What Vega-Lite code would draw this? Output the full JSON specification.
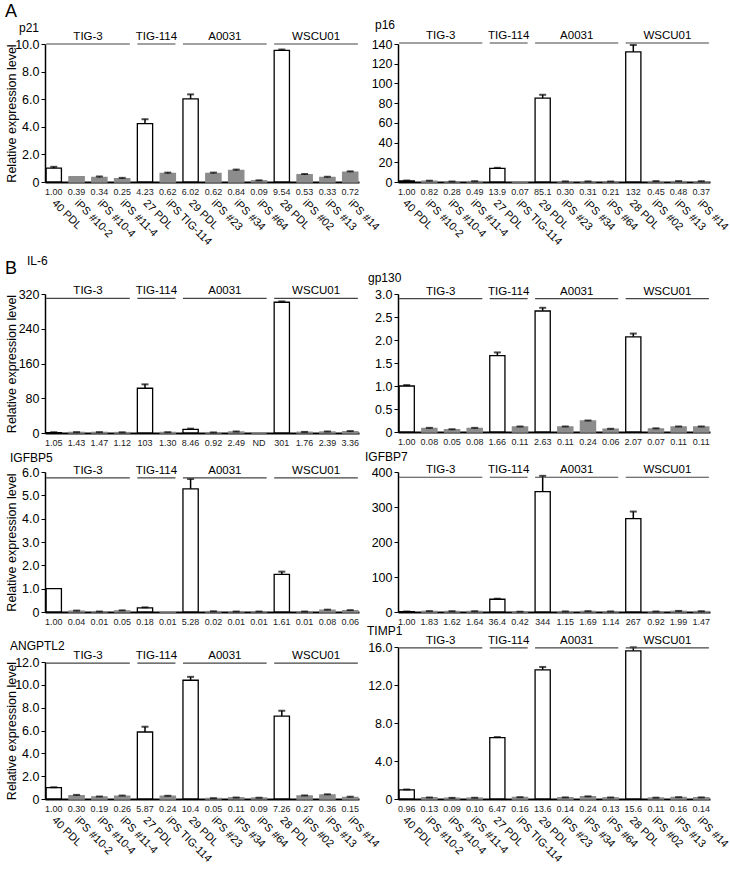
{
"$schema":"https://vega.github.io/schema/vega-lite/v6.json",
"padding":{"left":4,"top":3,"right":5,"bottom":3},
"title":{"text":"A","anchor":"start","fontSize":18,"fontWeight":"normal","offset":-2},
"datasets":{
"groups":[
{"group":"TIG-3","first":"40 PDL","last":"iPS #11-4","mid":"iPS #10-2"},
{"group":"TIG-114","first":"27 PDL","last":"iPS TIG-114","mid":"27 PDL"},
{"group":"A0031","first":"29 PDL","last":"iPS #64","mid":"iPS #23"},
{"group":"WSCU01","first":"28 PDL","last":"iPS #14","mid":"iPS #02"}
],
"expr":[
{"gene":"p21","sample":"40 PDL","kind":"PDL","value":1.00,"hi":1.10,"lab":"1.00"},
{"gene":"p21","sample":"iPS #10-2","kind":"iPS","value":0.39,"hi":0.39,"lab":"0.39"},
{"gene":"p21","sample":"iPS #10-4","kind":"iPS","value":0.34,"hi":0.40,"lab":"0.34"},
{"gene":"p21","sample":"iPS #11-4","kind":"iPS","value":0.25,"hi":0.30,"lab":"0.25"},
{"gene":"p21","sample":"27 PDL","kind":"PDL","value":4.23,"hi":4.55,"lab":"4.23"},
{"gene":"p21","sample":"iPS TIG-114","kind":"iPS","value":0.62,"hi":0.68,"lab":"0.62"},
{"gene":"p21","sample":"29 PDL","kind":"PDL","value":6.02,"hi":6.35,"lab":"6.02"},
{"gene":"p21","sample":"iPS #23","kind":"iPS","value":0.62,"hi":0.68,"lab":"0.62"},
{"gene":"p21","sample":"iPS #34","kind":"iPS","value":0.84,"hi":0.90,"lab":"0.84"},
{"gene":"p21","sample":"iPS #64","kind":"iPS","value":0.09,"hi":0.12,"lab":"0.09"},
{"gene":"p21","sample":"28 PDL","kind":"PDL","value":9.54,"hi":9.60,"lab":"9.54"},
{"gene":"p21","sample":"iPS #02","kind":"iPS","value":0.53,"hi":0.58,"lab":"0.53"},
{"gene":"p21","sample":"iPS #13","kind":"iPS","value":0.33,"hi":0.38,"lab":"0.33"},
{"gene":"p21","sample":"iPS #14","kind":"iPS","value":0.72,"hi":0.77,"lab":"0.72"},
{"gene":"p16","sample":"40 PDL","kind":"PDL","value":1.00,"hi":1.5,"lab":"1.00"},
{"gene":"p16","sample":"iPS #10-2","kind":"iPS","value":0.82,"hi":1.3,"lab":"0.82"},
{"gene":"p16","sample":"iPS #10-4","kind":"iPS","value":0.28,"hi":0.5,"lab":"0.28"},
{"gene":"p16","sample":"iPS #11-4","kind":"iPS","value":0.49,"hi":0.8,"lab":"0.49"},
{"gene":"p16","sample":"27 PDL","kind":"PDL","value":13.9,"hi":14.4,"lab":"13.9"},
{"gene":"p16","sample":"iPS TIG-114","kind":"iPS","value":0.07,"hi":0.07,"lab":"0.07"},
{"gene":"p16","sample":"29 PDL","kind":"PDL","value":85.1,"hi":88.5,"lab":"85.1"},
{"gene":"p16","sample":"iPS #23","kind":"iPS","value":0.30,"hi":0.6,"lab":"0.30"},
{"gene":"p16","sample":"iPS #34","kind":"iPS","value":0.31,"hi":0.6,"lab":"0.31"},
{"gene":"p16","sample":"iPS #64","kind":"iPS","value":0.21,"hi":0.5,"lab":"0.21"},
{"gene":"p16","sample":"28 PDL","kind":"PDL","value":132,"hi":139,"lab":"132"},
{"gene":"p16","sample":"iPS #02","kind":"iPS","value":0.45,"hi":0.9,"lab":"0.45"},
{"gene":"p16","sample":"iPS #13","kind":"iPS","value":0.48,"hi":0.9,"lab":"0.48"},
{"gene":"p16","sample":"iPS #14","kind":"iPS","value":0.37,"hi":0.8,"lab":"0.37"},
{"gene":"IL-6","sample":"40 PDL","kind":"PDL","value":1.05,"hi":1.8,"lab":"1.05"},
{"gene":"IL-6","sample":"iPS #10-2","kind":"iPS","value":1.43,"hi":2.0,"lab":"1.43"},
{"gene":"IL-6","sample":"iPS #10-4","kind":"iPS","value":1.47,"hi":2.0,"lab":"1.47"},
{"gene":"IL-6","sample":"iPS #11-4","kind":"iPS","value":1.12,"hi":1.6,"lab":"1.12"},
{"gene":"IL-6","sample":"27 PDL","kind":"PDL","value":103,"hi":112,"lab":"103"},
{"gene":"IL-6","sample":"iPS TIG-114","kind":"iPS","value":1.30,"hi":1.8,"lab":"1.30"},
{"gene":"IL-6","sample":"29 PDL","kind":"PDL","value":8.46,"hi":10,"lab":"8.46"},
{"gene":"IL-6","sample":"iPS #23","kind":"iPS","value":0.92,"hi":1.3,"lab":"0.92"},
{"gene":"IL-6","sample":"iPS #34","kind":"iPS","value":2.49,"hi":3.5,"lab":"2.49"},
{"gene":"IL-6","sample":"iPS #64","kind":"iPS","value":0,"hi":0,"lab":"ND"},
{"gene":"IL-6","sample":"28 PDL","kind":"PDL","value":301,"hi":303,"lab":"301"},
{"gene":"IL-6","sample":"iPS #02","kind":"iPS","value":1.76,"hi":2.5,"lab":"1.76"},
{"gene":"IL-6","sample":"iPS #13","kind":"iPS","value":2.39,"hi":3.5,"lab":"2.39"},
{"gene":"IL-6","sample":"iPS #14","kind":"iPS","value":3.36,"hi":4.5,"lab":"3.36"},
{"gene":"gp130","sample":"40 PDL","kind":"PDL","value":1.00,"hi":1.02,"lab":"1.00"},
{"gene":"gp130","sample":"iPS #10-2","kind":"iPS","value":0.08,"hi":0.09,"lab":"0.08"},
{"gene":"gp130","sample":"iPS #10-4","kind":"iPS","value":0.05,"hi":0.06,"lab":"0.05"},
{"gene":"gp130","sample":"iPS #11-4","kind":"iPS","value":0.08,"hi":0.09,"lab":"0.08"},
{"gene":"gp130","sample":"27 PDL","kind":"PDL","value":1.66,"hi":1.73,"lab":"1.66"},
{"gene":"gp130","sample":"iPS TIG-114","kind":"iPS","value":0.11,"hi":0.12,"lab":"0.11"},
{"gene":"gp130","sample":"29 PDL","kind":"PDL","value":2.63,"hi":2.70,"lab":"2.63"},
{"gene":"gp130","sample":"iPS #23","kind":"iPS","value":0.11,"hi":0.12,"lab":"0.11"},
{"gene":"gp130","sample":"iPS #34","kind":"iPS","value":0.24,"hi":0.25,"lab":"0.24"},
{"gene":"gp130","sample":"iPS #64","kind":"iPS","value":0.06,"hi":0.07,"lab":"0.06"},
{"gene":"gp130","sample":"28 PDL","kind":"PDL","value":2.07,"hi":2.14,"lab":"2.07"},
{"gene":"gp130","sample":"iPS #02","kind":"iPS","value":0.07,"hi":0.08,"lab":"0.07"},
{"gene":"gp130","sample":"iPS #13","kind":"iPS","value":0.11,"hi":0.12,"lab":"0.11"},
{"gene":"gp130","sample":"iPS #14","kind":"iPS","value":0.11,"hi":0.12,"lab":"0.11"},
{"gene":"IGFBP5","sample":"40 PDL","kind":"PDL","value":1.00,"hi":1.00,"lab":"1.00"},
{"gene":"IGFBP5","sample":"iPS #10-2","kind":"iPS","value":0.04,"hi":0.06,"lab":"0.04"},
{"gene":"IGFBP5","sample":"iPS #10-4","kind":"iPS","value":0.01,"hi":0.02,"lab":"0.01"},
{"gene":"IGFBP5","sample":"iPS #11-4","kind":"iPS","value":0.05,"hi":0.07,"lab":"0.05"},
{"gene":"IGFBP5","sample":"27 PDL","kind":"PDL","value":0.18,"hi":0.20,"lab":"0.18"},
{"gene":"IGFBP5","sample":"iPS TIG-114","kind":"iPS","value":0.01,"hi":0.01,"lab":"0.01"},
{"gene":"IGFBP5","sample":"29 PDL","kind":"PDL","value":5.28,"hi":5.70,"lab":"5.28"},
{"gene":"IGFBP5","sample":"iPS #23","kind":"iPS","value":0.02,"hi":0.03,"lab":"0.02"},
{"gene":"IGFBP5","sample":"iPS #34","kind":"iPS","value":0.01,"hi":0.02,"lab":"0.01"},
{"gene":"IGFBP5","sample":"iPS #64","kind":"iPS","value":0.01,"hi":0.02,"lab":"0.01"},
{"gene":"IGFBP5","sample":"28 PDL","kind":"PDL","value":1.61,"hi":1.73,"lab":"1.61"},
{"gene":"IGFBP5","sample":"iPS #02","kind":"iPS","value":0.01,"hi":0.02,"lab":"0.01"},
{"gene":"IGFBP5","sample":"iPS #13","kind":"iPS","value":0.08,"hi":0.10,"lab":"0.08"},
{"gene":"IGFBP5","sample":"iPS #14","kind":"iPS","value":0.06,"hi":0.08,"lab":"0.06"},
{"gene":"IGFBP7","sample":"40 PDL","kind":"PDL","value":1.00,"hi":1.5,"lab":"1.00"},
{"gene":"IGFBP7","sample":"iPS #10-2","kind":"iPS","value":1.83,"hi":2.5,"lab":"1.83"},
{"gene":"IGFBP7","sample":"iPS #10-4","kind":"iPS","value":1.62,"hi":2.2,"lab":"1.62"},
{"gene":"IGFBP7","sample":"iPS #11-4","kind":"iPS","value":1.64,"hi":2.2,"lab":"1.64"},
{"gene":"IGFBP7","sample":"27 PDL","kind":"PDL","value":36.4,"hi":38,"lab":"36.4"},
{"gene":"IGFBP7","sample":"iPS TIG-114","kind":"iPS","value":0.42,"hi":0.8,"lab":"0.42"},
{"gene":"IGFBP7","sample":"29 PDL","kind":"PDL","value":344,"hi":389,"lab":"344"},
{"gene":"IGFBP7","sample":"iPS #23","kind":"iPS","value":1.15,"hi":1.6,"lab":"1.15"},
{"gene":"IGFBP7","sample":"iPS #34","kind":"iPS","value":1.69,"hi":2.3,"lab":"1.69"},
{"gene":"IGFBP7","sample":"iPS #64","kind":"iPS","value":1.14,"hi":1.6,"lab":"1.14"},
{"gene":"IGFBP7","sample":"28 PDL","kind":"PDL","value":267,"hi":287,"lab":"267"},
{"gene":"IGFBP7","sample":"iPS #02","kind":"iPS","value":0.92,"hi":1.4,"lab":"0.92"},
{"gene":"IGFBP7","sample":"iPS #13","kind":"iPS","value":1.99,"hi":3.0,"lab":"1.99"},
{"gene":"IGFBP7","sample":"iPS #14","kind":"iPS","value":1.47,"hi":2.2,"lab":"1.47"},
{"gene":"ANGPTL2","sample":"40 PDL","kind":"PDL","value":1.00,"hi":1.03,"lab":"1.00"},
{"gene":"ANGPTL2","sample":"iPS #10-2","kind":"iPS","value":0.30,"hi":0.36,"lab":"0.30"},
{"gene":"ANGPTL2","sample":"iPS #10-4","kind":"iPS","value":0.19,"hi":0.22,"lab":"0.19"},
{"gene":"ANGPTL2","sample":"iPS #11-4","kind":"iPS","value":0.26,"hi":0.30,"lab":"0.26"},
{"gene":"ANGPTL2","sample":"27 PDL","kind":"PDL","value":5.87,"hi":6.33,"lab":"5.87"},
{"gene":"ANGPTL2","sample":"iPS TIG-114","kind":"iPS","value":0.24,"hi":0.28,"lab":"0.24"},
{"gene":"ANGPTL2","sample":"29 PDL","kind":"PDL","value":10.4,"hi":10.7,"lab":"10.4"},
{"gene":"ANGPTL2","sample":"iPS #23","kind":"iPS","value":0.05,"hi":0.07,"lab":"0.05"},
{"gene":"ANGPTL2","sample":"iPS #34","kind":"iPS","value":0.11,"hi":0.13,"lab":"0.11"},
{"gene":"ANGPTL2","sample":"iPS #64","kind":"iPS","value":0.09,"hi":0.11,"lab":"0.09"},
{"gene":"ANGPTL2","sample":"28 PDL","kind":"PDL","value":7.26,"hi":7.73,"lab":"7.26"},
{"gene":"ANGPTL2","sample":"iPS #02","kind":"iPS","value":0.27,"hi":0.31,"lab":"0.27"},
{"gene":"ANGPTL2","sample":"iPS #13","kind":"iPS","value":0.36,"hi":0.41,"lab":"0.36"},
{"gene":"ANGPTL2","sample":"iPS #14","kind":"iPS","value":0.15,"hi":0.20,"lab":"0.15"},
{"gene":"TIMP1","sample":"40 PDL","kind":"PDL","value":0.96,"hi":1.00,"lab":"0.96"},
{"gene":"TIMP1","sample":"iPS #10-2","kind":"iPS","value":0.13,"hi":0.16,"lab":"0.13"},
{"gene":"TIMP1","sample":"iPS #10-4","kind":"iPS","value":0.09,"hi":0.12,"lab":"0.09"},
{"gene":"TIMP1","sample":"iPS #11-4","kind":"iPS","value":0.10,"hi":0.13,"lab":"0.10"},
{"gene":"TIMP1","sample":"27 PDL","kind":"PDL","value":6.47,"hi":6.52,"lab":"6.47"},
{"gene":"TIMP1","sample":"iPS TIG-114","kind":"iPS","value":0.16,"hi":0.19,"lab":"0.16"},
{"gene":"TIMP1","sample":"29 PDL","kind":"PDL","value":13.6,"hi":13.9,"lab":"13.6"},
{"gene":"TIMP1","sample":"iPS #23","kind":"iPS","value":0.14,"hi":0.17,"lab":"0.14"},
{"gene":"TIMP1","sample":"iPS #34","kind":"iPS","value":0.24,"hi":0.28,"lab":"0.24"},
{"gene":"TIMP1","sample":"iPS #64","kind":"iPS","value":0.13,"hi":0.16,"lab":"0.13"},
{"gene":"TIMP1","sample":"28 PDL","kind":"PDL","value":15.6,"hi":15.97,"lab":"15.6"},
{"gene":"TIMP1","sample":"iPS #02","kind":"iPS","value":0.11,"hi":0.14,"lab":"0.11"},
{"gene":"TIMP1","sample":"iPS #13","kind":"iPS","value":0.16,"hi":0.19,"lab":"0.16"},
{"gene":"TIMP1","sample":"iPS #14","kind":"iPS","value":0.14,"hi":0.17,"lab":"0.14"}
]
},
"spacing":-16,
"hconcat":[
{"bounds":"flush","spacing":112,"vconcat":[
{"width":314,"height":138,
 "title":{"text":"p21","anchor":"start","frame":"group","dx":-26,"offset":-4,"fontSize":12},
 "layer":[
  {"data":{"name":"expr"},"transform":[{"filter":"datum.gene == 'p21'"}],"mark":{"type":"bar","strokeWidth":1.3},
   "encoding":{"x":{"field":"sample","type":"nominal","scale":{"domain":["40 PDL","iPS #10-2","iPS #10-4","iPS #11-4","27 PDL","iPS TIG-114","29 PDL","iPS #23","iPS #34","iPS #64","28 PDL","iPS #02","iPS #13","iPS #14"],"paddingInner":0.33,"paddingOuter":0.05},
     "axis":{"title":null,"ticks":false,"domainColor":"black","domainWidth":2,"labelAngle":45,"labelAlign":"left","labelBaseline":"top","labelFontSize":11,"labelColor":"black","labelPadding":15,"labelOffset":4,"labelOverlap":false}},
    "y":{"field":"value","type":"quantitative","scale":{"domain":[0,10],"nice":false},
     "axis":{"values":[0,2,4,6,8,10],"tickCount":20,"labelExpr":"datum.value == 0 ? '0' : format(datum.value, '.1f')","grid":false,"domainColor":"black","domainWidth":1.5,"tickColor":"black","tickSize":4,"labelFontSize":12.5,"labelColor":"black","labelPadding":2,"labelOverlap":false,"title":"Relative expression level","titleFontSize":12.5,"titleFontWeight":"normal","titleColor":"black","titlePadding":-3,"minExtent":30,"maxExtent":30}},
    "fill":{"field":"kind","type":"nominal","scale":{"domain":["PDL","iPS"],"range":["#ffffff","#8c8c8c"]},"legend":null},
    "stroke":{"field":"kind","type":"nominal","scale":{"domain":["PDL","iPS"],"range":["#000000","#8c8c8c"]},"legend":null}}},
  {"data":{"name":"expr"},"transform":[{"filter":"datum.gene == 'p21' && datum.hi > datum.value"}],"mark":{"type":"rule","color":"black","strokeWidth":1.5},
   "encoding":{"x":{"field":"sample","type":"nominal"},"y":{"field":"value","type":"quantitative"},"y2":{"field":"hi"}}},
  {"data":{"name":"expr"},"transform":[{"filter":"datum.gene == 'p21' && datum.hi > datum.value"}],"mark":{"type":"tick","color":"black","thickness":2,"size":7},
   "encoding":{"x":{"field":"sample","type":"nominal"},"y":{"field":"hi","type":"quantitative"}}},
  {"data":{"name":"expr"},"transform":[{"filter":"datum.gene == 'p21'"}],"mark":{"type":"text","fontSize":9,"baseline":"top","dy":6,"color":"#222222"},
   "encoding":{"x":{"field":"sample","type":"nominal"},"y":{"datum":0,"type":"quantitative"},"text":{"field":"lab","type":"nominal"}}},
  {"data":{"name":"groups"},"mark":{"type":"rule","color":"#444444","strokeWidth":1.2},
   "encoding":{"x":{"field":"first","type":"nominal","bandPosition":0},"x2":{"field":"last","bandPosition":1},"y":{"datum":10,"type":"quantitative"}}},
  {"data":{"name":"groups"},"mark":{"type":"text","fontSize":11.5,"baseline":"alphabetic","dy":-4,"color":"black"},
   "encoding":{"x":{"field":"mid","type":"nominal","bandPosition":1.25},"y":{"datum":10,"type":"quantitative"},"text":{"field":"group","type":"nominal"}}}
 ]},
{"bounds":"flush","spacing":39,
 "title":{"text":"B","anchor":"start","fontSize":18,"fontWeight":"normal","offset":-23},
 "vconcat":[
 {"width":314,"height":139,
 "title":{"text":"IL-6","anchor":"start","frame":"group","dx":-18,"offset":17,"fontSize":12},
 "layer":[
  {"data":{"name":"expr"},"transform":[{"filter":"datum.gene == 'IL-6'"}],"mark":{"type":"bar","strokeWidth":1.3},
   "encoding":{"x":{"field":"sample","type":"nominal","scale":{"domain":["40 PDL","iPS #10-2","iPS #10-4","iPS #11-4","27 PDL","iPS TIG-114","29 PDL","iPS #23","iPS #34","iPS #64","28 PDL","iPS #02","iPS #13","iPS #14"],"paddingInner":0.33,"paddingOuter":0.05},
     "axis":{"title":null,"ticks":false,"labels":false,"domainColor":"black","domainWidth":2}},
    "y":{"field":"value","type":"quantitative","scale":{"domain":[0,320],"nice":false},
     "axis":{"values":[0,80,160,240,320],"tickCount":20,"grid":false,"domainColor":"black","domainWidth":1.5,"tickColor":"black","tickSize":4,"labelFontSize":12.5,"labelColor":"black","labelPadding":2,"labelOverlap":false,"title":"Relative expression level","titleFontSize":12.5,"titleFontWeight":"normal","titleColor":"black","titlePadding":-3,"minExtent":30,"maxExtent":30}},
    "fill":{"field":"kind","type":"nominal","scale":{"domain":["PDL","iPS"],"range":["#ffffff","#8c8c8c"]},"legend":null},
    "stroke":{"field":"kind","type":"nominal","scale":{"domain":["PDL","iPS"],"range":["#000000","#8c8c8c"]},"legend":null}}},
  {"data":{"name":"expr"},"transform":[{"filter":"datum.gene == 'IL-6' && datum.hi > datum.value"}],"mark":{"type":"rule","color":"black","strokeWidth":1.5},
   "encoding":{"x":{"field":"sample","type":"nominal"},"y":{"field":"value","type":"quantitative"},"y2":{"field":"hi"}}},
  {"data":{"name":"expr"},"transform":[{"filter":"datum.gene == 'IL-6' && datum.hi > datum.value"}],"mark":{"type":"tick","color":"black","thickness":2,"size":7},
   "encoding":{"x":{"field":"sample","type":"nominal"},"y":{"field":"hi","type":"quantitative"}}},
  {"data":{"name":"expr"},"transform":[{"filter":"datum.gene == 'IL-6'"}],"mark":{"type":"text","fontSize":9,"baseline":"top","dy":6,"color":"#222222"},
   "encoding":{"x":{"field":"sample","type":"nominal"},"y":{"datum":0,"type":"quantitative"},"text":{"field":"lab","type":"nominal"}}},
  {"data":{"name":"groups"},"mark":{"type":"rule","color":"#444444","strokeWidth":1.2},
   "encoding":{"x":{"field":"first","type":"nominal","bandPosition":0},"x2":{"field":"last","bandPosition":1},"y":{"datum":310,"type":"quantitative"}}},
  {"data":{"name":"groups"},"mark":{"type":"text","fontSize":11.5,"baseline":"alphabetic","dy":-4,"color":"black"},
   "encoding":{"x":{"field":"mid","type":"nominal","bandPosition":1.25},"y":{"datum":310,"type":"quantitative"},"text":{"field":"group","type":"nominal"}}}
 ]},
 {"bounds":"flush","spacing":50,"vconcat":[
 {"width":314,"height":140,
 "title":{"text":"IGFBP5","anchor":"start","frame":"group","dx":-35,"offset":0,"fontSize":12},
 "layer":[
  {"data":{"name":"expr"},"transform":[{"filter":"datum.gene == 'IGFBP5'"}],"mark":{"type":"bar","strokeWidth":1.3},
   "encoding":{"x":{"field":"sample","type":"nominal","scale":{"domain":["40 PDL","iPS #10-2","iPS #10-4","iPS #11-4","27 PDL","iPS TIG-114","29 PDL","iPS #23","iPS #34","iPS #64","28 PDL","iPS #02","iPS #13","iPS #14"],"paddingInner":0.33,"paddingOuter":0.05},
     "axis":{"title":null,"ticks":false,"labels":false,"domainColor":"black","domainWidth":2}},
    "y":{"field":"value","type":"quantitative","scale":{"domain":[0,6],"nice":false},
     "axis":{"values":[0,1,2,3,4,5,6],"tickCount":20,"labelExpr":"datum.value == 0 ? '0' : format(datum.value, '.1f')","grid":false,"domainColor":"black","domainWidth":1.5,"tickColor":"black","tickSize":4,"labelFontSize":12.5,"labelColor":"black","labelPadding":2,"labelOverlap":false,"title":"Relative expression level","titleFontSize":12.5,"titleFontWeight":"normal","titleColor":"black","titlePadding":-3,"minExtent":30,"maxExtent":30}},
    "fill":{"field":"kind","type":"nominal","scale":{"domain":["PDL","iPS"],"range":["#ffffff","#8c8c8c"]},"legend":null},
    "stroke":{"field":"kind","type":"nominal","scale":{"domain":["PDL","iPS"],"range":["#000000","#8c8c8c"]},"legend":null}}},
  {"data":{"name":"expr"},"transform":[{"filter":"datum.gene == 'IGFBP5' && datum.hi > datum.value"}],"mark":{"type":"rule","color":"black","strokeWidth":1.5},
   "encoding":{"x":{"field":"sample","type":"nominal"},"y":{"field":"value","type":"quantitative"},"y2":{"field":"hi"}}},
  {"data":{"name":"expr"},"transform":[{"filter":"datum.gene == 'IGFBP5' && datum.hi > datum.value"}],"mark":{"type":"tick","color":"black","thickness":2,"size":7},
   "encoding":{"x":{"field":"sample","type":"nominal"},"y":{"field":"hi","type":"quantitative"}}},
  {"data":{"name":"expr"},"transform":[{"filter":"datum.gene == 'IGFBP5'"}],"mark":{"type":"text","fontSize":9,"baseline":"top","dy":6,"color":"#222222"},
   "encoding":{"x":{"field":"sample","type":"nominal"},"y":{"datum":0,"type":"quantitative"},"text":{"field":"lab","type":"nominal"}}},
  {"data":{"name":"groups"},"mark":{"type":"rule","color":"#444444","strokeWidth":1.2},
   "encoding":{"x":{"field":"first","type":"nominal","bandPosition":0},"x2":{"field":"last","bandPosition":1},"y":{"datum":5.75,"type":"quantitative"}}},
  {"data":{"name":"groups"},"mark":{"type":"text","fontSize":11.5,"baseline":"alphabetic","dy":-4,"color":"black"},
   "encoding":{"x":{"field":"mid","type":"nominal","bandPosition":1.25},"y":{"datum":5.75,"type":"quantitative"},"text":{"field":"group","type":"nominal"}}}
 ]},
 {"width":314,"height":137,
 "title":{"text":"ANGPTL2","anchor":"start","frame":"group","dx":-35,"offset":-3,"fontSize":12},
 "layer":[
  {"data":{"name":"expr"},"transform":[{"filter":"datum.gene == 'ANGPTL2'"}],"mark":{"type":"bar","strokeWidth":1.3},
   "encoding":{"x":{"field":"sample","type":"nominal","scale":{"domain":["40 PDL","iPS #10-2","iPS #10-4","iPS #11-4","27 PDL","iPS TIG-114","29 PDL","iPS #23","iPS #34","iPS #64","28 PDL","iPS #02","iPS #13","iPS #14"],"paddingInner":0.33,"paddingOuter":0.05},
     "axis":{"title":null,"ticks":false,"domainColor":"black","domainWidth":2,"labelAngle":45,"labelAlign":"left","labelBaseline":"top","labelFontSize":11,"labelColor":"black","labelPadding":15,"labelOffset":4,"labelOverlap":false}},
    "y":{"field":"value","type":"quantitative","scale":{"domain":[0,12],"nice":false},
     "axis":{"values":[0,2,4,6,8,10,12],"tickCount":20,"labelExpr":"datum.value == 0 ? '0' : format(datum.value, '.1f')","grid":false,"domainColor":"black","domainWidth":1.5,"tickColor":"black","tickSize":4,"labelFontSize":12.5,"labelColor":"black","labelPadding":2,"labelOverlap":false,"title":"Relative expression level","titleFontSize":12.5,"titleFontWeight":"normal","titleColor":"black","titlePadding":-3,"minExtent":30,"maxExtent":30}},
    "fill":{"field":"kind","type":"nominal","scale":{"domain":["PDL","iPS"],"range":["#ffffff","#8c8c8c"]},"legend":null},
    "stroke":{"field":"kind","type":"nominal","scale":{"domain":["PDL","iPS"],"range":["#000000","#8c8c8c"]},"legend":null}}},
  {"data":{"name":"expr"},"transform":[{"filter":"datum.gene == 'ANGPTL2' && datum.hi > datum.value"}],"mark":{"type":"rule","color":"black","strokeWidth":1.5},
   "encoding":{"x":{"field":"sample","type":"nominal"},"y":{"field":"value","type":"quantitative"},"y2":{"field":"hi"}}},
  {"data":{"name":"expr"},"transform":[{"filter":"datum.gene == 'ANGPTL2' && datum.hi > datum.value"}],"mark":{"type":"tick","color":"black","thickness":2,"size":7},
   "encoding":{"x":{"field":"sample","type":"nominal"},"y":{"field":"hi","type":"quantitative"}}},
  {"data":{"name":"expr"},"transform":[{"filter":"datum.gene == 'ANGPTL2'"}],"mark":{"type":"text","fontSize":9,"baseline":"top","dy":6,"color":"#222222"},
   "encoding":{"x":{"field":"sample","type":"nominal"},"y":{"datum":0,"type":"quantitative"},"text":{"field":"lab","type":"nominal"}}},
  {"data":{"name":"groups"},"mark":{"type":"rule","color":"#444444","strokeWidth":1.2},
   "encoding":{"x":{"field":"first","type":"nominal","bandPosition":0},"x2":{"field":"last","bandPosition":1},"y":{"datum":11.9,"type":"quantitative"}}},
  {"data":{"name":"groups"},"mark":{"type":"text","fontSize":11.5,"baseline":"alphabetic","dy":-4,"color":"black"},
   "encoding":{"x":{"field":"mid","type":"nominal","bandPosition":1.25},"y":{"datum":11.9,"type":"quantitative"},"text":{"field":"group","type":"nominal"}}}
 ]}
 ]}
 ]}
]},
{"bounds":"flush","spacing":112,"vconcat":[
{"width":312,"height":138,
 "title":{"text":"p16","anchor":"start","frame":"group","dx":-23,"offset":-2,"fontSize":12},
 "layer":[
  {"data":{"name":"expr"},"transform":[{"filter":"datum.gene == 'p16'"}],"mark":{"type":"bar","strokeWidth":1.3},
   "encoding":{"x":{"field":"sample","type":"nominal","scale":{"domain":["40 PDL","iPS #10-2","iPS #10-4","iPS #11-4","27 PDL","iPS TIG-114","29 PDL","iPS #23","iPS #34","iPS #64","28 PDL","iPS #02","iPS #13","iPS #14"],"paddingInner":0.33,"paddingOuter":0.05},
     "axis":{"title":null,"ticks":false,"domainColor":"black","domainWidth":2,"labelAngle":45,"labelAlign":"left","labelBaseline":"top","labelFontSize":11,"labelColor":"black","labelPadding":15,"labelOffset":2,"labelOverlap":false}},
    "y":{"field":"value","type":"quantitative","scale":{"domain":[0,140],"nice":false},
     "axis":{"values":[0,20,40,60,80,100,120,140],"tickCount":20,"grid":false,"domainColor":"black","domainWidth":1.5,"tickColor":"black","tickSize":4,"labelFontSize":12.5,"labelColor":"black","labelPadding":2,"labelOverlap":false,"title":null}},
    "fill":{"field":"kind","type":"nominal","scale":{"domain":["PDL","iPS"],"range":["#ffffff","#8c8c8c"]},"legend":null},
    "stroke":{"field":"kind","type":"nominal","scale":{"domain":["PDL","iPS"],"range":["#000000","#8c8c8c"]},"legend":null}}},
  {"data":{"name":"expr"},"transform":[{"filter":"datum.gene == 'p16' && datum.hi > datum.value"}],"mark":{"type":"rule","color":"black","strokeWidth":1.5},
   "encoding":{"x":{"field":"sample","type":"nominal"},"y":{"field":"value","type":"quantitative"},"y2":{"field":"hi"}}},
  {"data":{"name":"expr"},"transform":[{"filter":"datum.gene == 'p16' && datum.hi > datum.value"}],"mark":{"type":"tick","color":"black","thickness":2,"size":7},
   "encoding":{"x":{"field":"sample","type":"nominal"},"y":{"field":"hi","type":"quantitative"}}},
  {"data":{"name":"expr"},"transform":[{"filter":"datum.gene == 'p16'"}],"mark":{"type":"text","fontSize":9,"baseline":"top","dy":6,"color":"#222222"},
   "encoding":{"x":{"field":"sample","type":"nominal"},"y":{"datum":0,"type":"quantitative"},"text":{"field":"lab","type":"nominal"}}},
  {"data":{"name":"groups"},"mark":{"type":"rule","color":"#444444","strokeWidth":1.2},
   "encoding":{"x":{"field":"first","type":"nominal","bandPosition":0},"x2":{"field":"last","bandPosition":1},"y":{"datum":141,"type":"quantitative"}}},
  {"data":{"name":"groups"},"mark":{"type":"text","fontSize":11.5,"baseline":"alphabetic","dy":-4,"color":"black"},
   "encoding":{"x":{"field":"mid","type":"nominal","bandPosition":1.25},"y":{"datum":141,"type":"quantitative"},"text":{"field":"group","type":"nominal"}}}
 ]},
{"bounds":"flush","spacing":40,"vconcat":[
 {"width":312,"height":138,
 "title":{"text":"gp130","anchor":"start","frame":"group","dx":-30,"offset":1,"fontSize":12},
 "layer":[
  {"data":{"name":"expr"},"transform":[{"filter":"datum.gene == 'gp130'"}],"mark":{"type":"bar","strokeWidth":1.3},
   "encoding":{"x":{"field":"sample","type":"nominal","scale":{"domain":["40 PDL","iPS #10-2","iPS #10-4","iPS #11-4","27 PDL","iPS TIG-114","29 PDL","iPS #23","iPS #34","iPS #64","28 PDL","iPS #02","iPS #13","iPS #14"],"paddingInner":0.33,"paddingOuter":0.05},
     "axis":{"title":null,"ticks":false,"labels":false,"domainColor":"black","domainWidth":2}},
    "y":{"field":"value","type":"quantitative","scale":{"domain":[0,3],"nice":false},
     "axis":{"values":[0,0.5,1,1.5,2,2.5,3],"tickCount":20,"labelExpr":"datum.value == 0 ? '0' : format(datum.value, '.1f')","grid":false,"domainColor":"black","domainWidth":1.5,"tickColor":"black","tickSize":4,"labelFontSize":12.5,"labelColor":"black","labelPadding":2,"labelOverlap":false,"title":null}},
    "fill":{"field":"kind","type":"nominal","scale":{"domain":["PDL","iPS"],"range":["#ffffff","#8c8c8c"]},"legend":null},
    "stroke":{"field":"kind","type":"nominal","scale":{"domain":["PDL","iPS"],"range":["#000000","#8c8c8c"]},"legend":null}}},
  {"data":{"name":"expr"},"transform":[{"filter":"datum.gene == 'gp130' && datum.hi > datum.value"}],"mark":{"type":"rule","color":"black","strokeWidth":1.5},
   "encoding":{"x":{"field":"sample","type":"nominal"},"y":{"field":"value","type":"quantitative"},"y2":{"field":"hi"}}},
  {"data":{"name":"expr"},"transform":[{"filter":"datum.gene == 'gp130' && datum.hi > datum.value"}],"mark":{"type":"tick","color":"black","thickness":2,"size":7},
   "encoding":{"x":{"field":"sample","type":"nominal"},"y":{"field":"hi","type":"quantitative"}}},
  {"data":{"name":"expr"},"transform":[{"filter":"datum.gene == 'gp130'"}],"mark":{"type":"text","fontSize":9,"baseline":"top","dy":6,"color":"#222222"},
   "encoding":{"x":{"field":"sample","type":"nominal"},"y":{"datum":0,"type":"quantitative"},"text":{"field":"lab","type":"nominal"}}},
  {"data":{"name":"groups"},"mark":{"type":"rule","color":"#444444","strokeWidth":1.2},
   "encoding":{"x":{"field":"first","type":"nominal","bandPosition":0},"x2":{"field":"last","bandPosition":1},"y":{"datum":2.9,"type":"quantitative"}}},
  {"data":{"name":"groups"},"mark":{"type":"text","fontSize":11.5,"baseline":"alphabetic","dy":-4,"color":"black"},
   "encoding":{"x":{"field":"mid","type":"nominal","bandPosition":1.25},"y":{"datum":2.9,"type":"quantitative"},"text":{"field":"group","type":"nominal"}}}
 ]},
 {"bounds":"flush","spacing":35,"vconcat":[
 {"width":312,"height":140,
 "title":{"text":"IGFBP7","anchor":"start","frame":"group","dx":-33,"offset":0,"fontSize":12},
 "layer":[
  {"data":{"name":"expr"},"transform":[{"filter":"datum.gene == 'IGFBP7'"}],"mark":{"type":"bar","strokeWidth":1.3},
   "encoding":{"x":{"field":"sample","type":"nominal","scale":{"domain":["40 PDL","iPS #10-2","iPS #10-4","iPS #11-4","27 PDL","iPS TIG-114","29 PDL","iPS #23","iPS #34","iPS #64","28 PDL","iPS #02","iPS #13","iPS #14"],"paddingInner":0.33,"paddingOuter":0.05},
     "axis":{"title":null,"ticks":false,"labels":false,"domainColor":"black","domainWidth":2}},
    "y":{"field":"value","type":"quantitative","scale":{"domain":[0,400],"nice":false},
     "axis":{"values":[0,100,200,300,400],"tickCount":20,"grid":false,"domainColor":"black","domainWidth":1.5,"tickColor":"black","tickSize":4,"labelFontSize":12.5,"labelColor":"black","labelPadding":2,"labelOverlap":false,"title":null}},
    "fill":{"field":"kind","type":"nominal","scale":{"domain":["PDL","iPS"],"range":["#ffffff","#8c8c8c"]},"legend":null},
    "stroke":{"field":"kind","type":"nominal","scale":{"domain":["PDL","iPS"],"range":["#000000","#8c8c8c"]},"legend":null}}},
  {"data":{"name":"expr"},"transform":[{"filter":"datum.gene == 'IGFBP7' && datum.hi > datum.value"}],"mark":{"type":"rule","color":"black","strokeWidth":1.5},
   "encoding":{"x":{"field":"sample","type":"nominal"},"y":{"field":"value","type":"quantitative"},"y2":{"field":"hi"}}},
  {"data":{"name":"expr"},"transform":[{"filter":"datum.gene == 'IGFBP7' && datum.hi > datum.value"}],"mark":{"type":"tick","color":"black","thickness":2,"size":7},
   "encoding":{"x":{"field":"sample","type":"nominal"},"y":{"field":"hi","type":"quantitative"}}},
  {"data":{"name":"expr"},"transform":[{"filter":"datum.gene == 'IGFBP7'"}],"mark":{"type":"text","fontSize":9,"baseline":"top","dy":6,"color":"#222222"},
   "encoding":{"x":{"field":"sample","type":"nominal"},"y":{"datum":0,"type":"quantitative"},"text":{"field":"lab","type":"nominal"}}},
  {"data":{"name":"groups"},"mark":{"type":"rule","color":"#444444","strokeWidth":1.2},
   "encoding":{"x":{"field":"first","type":"nominal","bandPosition":0},"x2":{"field":"last","bandPosition":1},"y":{"datum":385,"type":"quantitative"}}},
  {"data":{"name":"groups"},"mark":{"type":"text","fontSize":11.5,"baseline":"alphabetic","dy":-4,"color":"black"},
   "encoding":{"x":{"field":"mid","type":"nominal","bandPosition":1.25},"y":{"datum":385,"type":"quantitative"},"text":{"field":"group","type":"nominal"}}}
 ]},
 {"width":312,"height":152,
 "title":{"text":"TIMP1","anchor":"start","frame":"group","dx":-31,"offset":-3,"fontSize":12},
 "layer":[
  {"data":{"name":"expr"},"transform":[{"filter":"datum.gene == 'TIMP1'"}],"mark":{"type":"bar","strokeWidth":1.3},
   "encoding":{"x":{"field":"sample","type":"nominal","scale":{"domain":["40 PDL","iPS #10-2","iPS #10-4","iPS #11-4","27 PDL","iPS TIG-114","29 PDL","iPS #23","iPS #34","iPS #64","28 PDL","iPS #02","iPS #13","iPS #14"],"paddingInner":0.33,"paddingOuter":0.05},
     "axis":{"title":null,"ticks":false,"domainColor":"black","domainWidth":2,"labelAngle":45,"labelAlign":"left","labelBaseline":"top","labelFontSize":11,"labelColor":"black","labelPadding":15,"labelOffset":2,"labelOverlap":false}},
    "y":{"field":"value","type":"quantitative","scale":{"domain":[0,16],"nice":false},
     "axis":{"values":[0,4,8,12,16],"tickCount":20,"labelExpr":"datum.value == 0 ? '0' : format(datum.value, '.1f')","grid":false,"domainColor":"black","domainWidth":1.5,"tickColor":"black","tickSize":4,"labelFontSize":12.5,"labelColor":"black","labelPadding":2,"labelOverlap":false,"title":null}},
    "fill":{"field":"kind","type":"nominal","scale":{"domain":["PDL","iPS"],"range":["#ffffff","#8c8c8c"]},"legend":null},
    "stroke":{"field":"kind","type":"nominal","scale":{"domain":["PDL","iPS"],"range":["#000000","#8c8c8c"]},"legend":null}}},
  {"data":{"name":"expr"},"transform":[{"filter":"datum.gene == 'TIMP1' && datum.hi > datum.value"}],"mark":{"type":"rule","color":"black","strokeWidth":1.5},
   "encoding":{"x":{"field":"sample","type":"nominal"},"y":{"field":"value","type":"quantitative"},"y2":{"field":"hi"}}},
  {"data":{"name":"expr"},"transform":[{"filter":"datum.gene == 'TIMP1' && datum.hi > datum.value"}],"mark":{"type":"tick","color":"black","thickness":2,"size":7},
   "encoding":{"x":{"field":"sample","type":"nominal"},"y":{"field":"hi","type":"quantitative"}}},
  {"data":{"name":"expr"},"transform":[{"filter":"datum.gene == 'TIMP1'"}],"mark":{"type":"text","fontSize":9,"baseline":"top","dy":6,"color":"#222222"},
   "encoding":{"x":{"field":"sample","type":"nominal"},"y":{"datum":0,"type":"quantitative"},"text":{"field":"lab","type":"nominal"}}},
  {"data":{"name":"groups"},"mark":{"type":"rule","color":"#444444","strokeWidth":1.2},
   "encoding":{"x":{"field":"first","type":"nominal","bandPosition":0},"x2":{"field":"last","bandPosition":1},"y":{"datum":15.9,"type":"quantitative"}}},
  {"data":{"name":"groups"},"mark":{"type":"text","fontSize":11.5,"baseline":"alphabetic","dy":-4,"color":"black"},
   "encoding":{"x":{"field":"mid","type":"nominal","bandPosition":1.25},"y":{"datum":15.9,"type":"quantitative"},"text":{"field":"group","type":"nominal"}}}
 ]}
 ]}
 ]}
]}
],
"config":{"font":"Liberation Sans","view":{"stroke":null},"title":{"font":"Liberation Sans","fontWeight":"normal","color":"black"},"axis":{"labelFont":"Liberation Sans","titleFont":"Liberation Sans"},"text":{"font":"Liberation Sans"}}
}
